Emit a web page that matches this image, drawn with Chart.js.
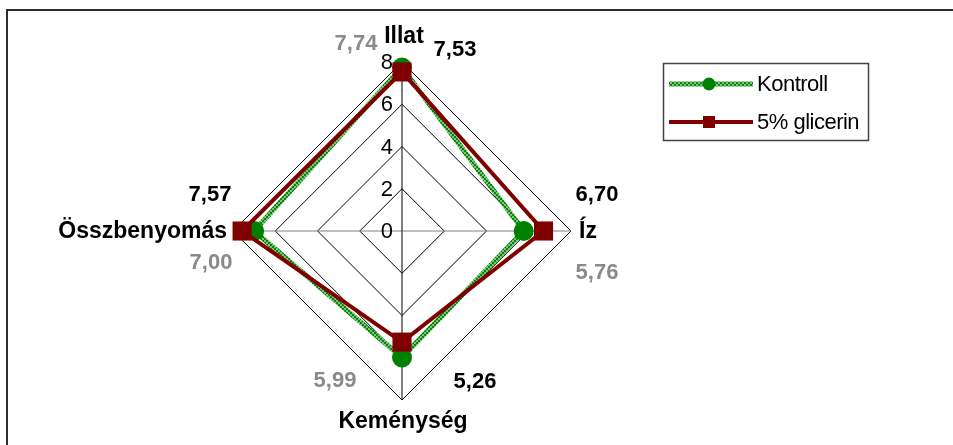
<!DOCTYPE html>
<html>
<head>
<meta charset="utf-8">
<script src="https://cdn.jsdelivr.net/npm/chart.js@4"></script>
<style>
  html, body { margin: 0; padding: 0; background: #fff; overflow: hidden; }
  #wrap { position: relative; width: 953px; height: 445px; }
  #frame { position: absolute; left: 6px; top: 9px; width: 1000px; height: 500px;
           border-top: 2px solid #2e2e2e; border-left: 2px solid #2e2e2e; }
  canvas { position: absolute; left: 0; top: 0; }
</style>
</head>
<body>
<div id="wrap">
  <div id="frame"></div>
  <canvas id="c" width="953" height="445"></canvas>
</div>
<script>
// Sensory scores (0–8 scale)
const categories = ['Illat', 'Íz', 'Keménység', 'Összbenyomás'];
const kontroll = [7.74, 5.76, 5.99, 7.00];
const glicerin = [7.53, 6.70, 5.26, 7.57];
const seriesNames = ['Kontroll', '5% glicerin'];
const tickValues = [0, 2, 4, 6, 8];

const FONT = '"Liberation Sans", Arial, sans-serif';
const GREEN = '#008000';
const RED = '#800000';
const GREY_TXT = '#8a8a8a';

// Hatched green stroke for the Kontroll series
function hatchPattern() {
  const c = document.createElement('canvas');
  c.width = 4; c.height = 4;
  const g = c.getContext('2d');
  g.fillStyle = '#0a870a';
  g.fillRect(0, 0, 4, 4);
  g.fillStyle = '#7cc27c';
  g.fillRect(0, 0, 2, 2);
  g.fillRect(2, 2, 2, 2);
  return g.createPattern(c, 'repeat');
}
const hatch = hatchPattern();

// Label placement relative to each axis end point (pixels)
const axisLabelPos = [
  { dx: 2, dy: -25, align: 'center' },
  { dx: 8, dy: 1, align: 'left' },
  { dx: 1, dy: 22, align: 'center' },
  { dx: -6, dy: 1, align: 'right' }
];
const kontrollLabelPos = [[-46, -18], [26, 42], [-67, -19], [-22, 32]];
const glicerinLabelPos = [[53, -12], [26, -36], [73, -18], [-23, -36]];

const fmt = v => v.toFixed(2).replace('.', ',');

const overlay = {
  id: 'overlay',
  afterDraw(chart) {
    const ctx = chart.ctx;
    const s = chart.scales.r;
    ctx.save();

    // value axis tick labels, left of the vertical spoke
    ctx.font = '22px ' + FONT;
    ctx.fillStyle = '#000';
    ctx.textAlign = 'right';
    ctx.textBaseline = 'middle';
    tickValues.forEach(v => {
      const y = s.yCenter - s.getDistanceFromCenterForValue(v);
      ctx.fillText(String(v), s.xCenter - 9, y + 1);
    });

    // category labels and value labels
    categories.forEach((name, i) => {
      const p = s.getPointPosition(i, s.drawingArea);
      const a = axisLabelPos[i];
      ctx.font = 'bold 23px ' + FONT;
      ctx.fillStyle = '#000';
      ctx.textAlign = a.align;
      ctx.textBaseline = 'middle';
      ctx.fillText(name, p.x + a.dx, p.y + a.dy);

      ctx.font = 'bold 22px ' + FONT;
      ctx.textAlign = 'center';
      ctx.fillStyle = GREY_TXT;
      ctx.fillText(fmt(kontroll[i]), p.x + kontrollLabelPos[i][0], p.y + kontrollLabelPos[i][1]);
      ctx.fillStyle = '#000';
      ctx.fillText(fmt(glicerin[i]), p.x + glicerinLabelPos[i][0], p.y + glicerinLabelPos[i][1]);
    });

    // legend box
    ctx.lineWidth = 1.5;
    ctx.strokeStyle = '#444';
    ctx.strokeRect(663.5, 63.5, 205, 77);

    ctx.lineCap = 'butt';
    ctx.strokeStyle = hatch;
    ctx.lineWidth = 5;
    ctx.beginPath(); ctx.moveTo(669, 84); ctx.lineTo(753, 84); ctx.stroke();
    ctx.fillStyle = GREEN;
    ctx.beginPath(); ctx.arc(709, 84, 6.5, 0, Math.PI * 2); ctx.fill();

    ctx.strokeStyle = RED;
    ctx.lineWidth = 4;
    ctx.beginPath(); ctx.moveTo(669, 122); ctx.lineTo(753, 122); ctx.stroke();
    ctx.fillStyle = RED;
    ctx.fillRect(703, 116, 12, 12);

    ctx.font = '22px ' + FONT;
    ctx.fillStyle = '#000';
    ctx.textAlign = 'left';
    ctx.textBaseline = 'middle';
    ctx.letterSpacing = '-0.5px';
    ctx.fillText(seriesNames[0], 757, 85);
    ctx.fillText(seriesNames[1], 757, 123);
    ctx.restore();
  }
};

new Chart(document.getElementById('c'), {
  type: 'radar',
  data: {
    labels: categories,
    datasets: [
      {
        label: seriesNames[0],
        data: kontroll,
        borderColor: hatch,
        borderWidth: 5,
        backgroundColor: 'transparent',
        fill: false,
        pointStyle: 'circle',
        pointRadius: 10,
        pointBackgroundColor: GREEN,
        pointBorderColor: GREEN,
        pointBorderWidth: 0,
        order: 2,
        clip: false
      },
      {
        label: seriesNames[1],
        data: glicerin,
        borderColor: RED,
        borderWidth: 4,
        backgroundColor: 'transparent',
        fill: false,
        pointStyle: 'rect',
        pointRadius: 13.5,
        pointBackgroundColor: RED,
        pointBorderColor: RED,
        pointBorderWidth: 0,
        order: 1,
        clip: false
      }
    ]
  },
  options: {
    responsive: false,
    animation: false,
    layout: { padding: { left: 233, top: 62, right: 382, bottom: 45 } },
    plugins: { legend: { display: false }, tooltip: { enabled: false } },
    elements: { line: { tension: 0 } },
    scales: {
      r: {
        min: 0,
        max: 8,
        ticks: { stepSize: 2, display: false },
        grid: { color: '#000', lineWidth: 1, circular: false },
        angleLines: {
          display: true,
          lineWidth: 1,
          color: ctx => (ctx.index % 2 ? '#808080' : '#000')
        },
        pointLabels: { display: false }
      }
    }
  },
  plugins: [overlay]
});
</script>
</body>
</html>
